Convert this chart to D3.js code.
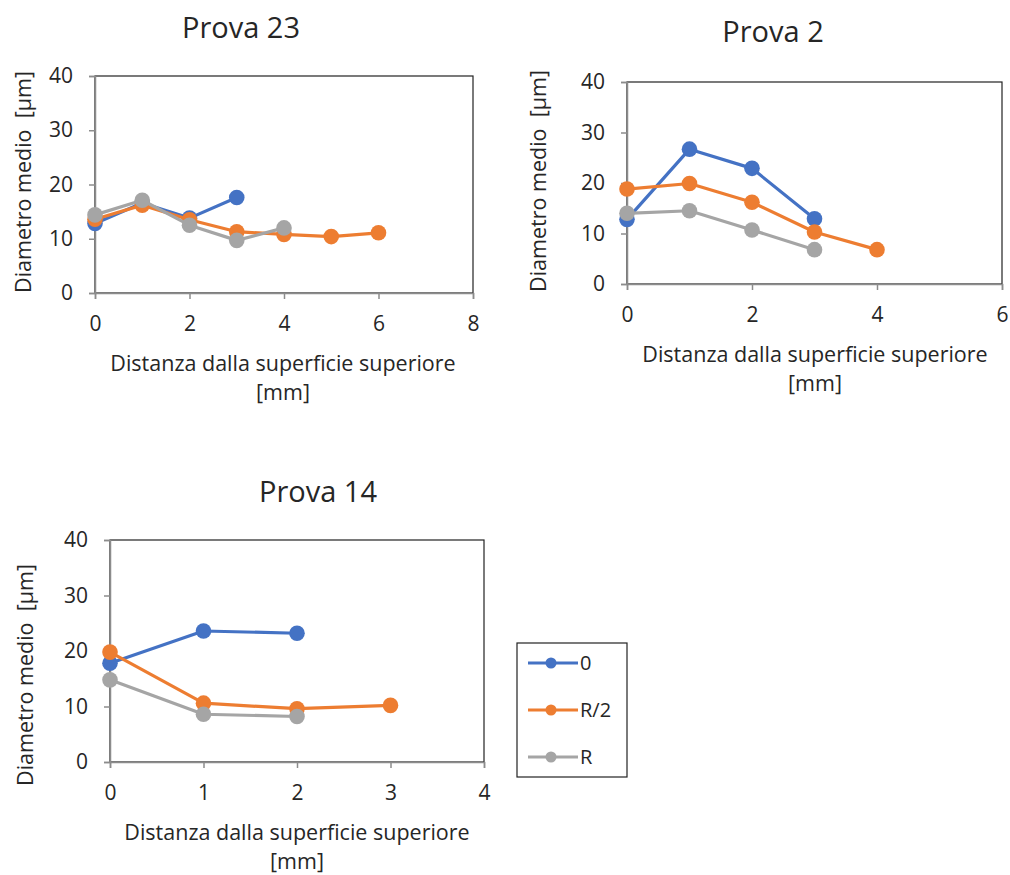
<!DOCTYPE html>
<html>
<head>
<meta charset="utf-8">
<script src="https://cdn.jsdelivr.net/npm/d3@7"></script>
<style>
  html, body { margin: 0; padding: 0; background: #fff; }
  svg text { font-family: "Open Sans", "DejaVu Sans", sans-serif; fill: #262626; white-space: pre; }
</style>
</head>
<body>
<svg id="chart" width="1010" height="875"></svg>
<script>
// Series names and colours
const seriesNames = ["0", "R/2", "R"];
const seriesColors = ["#4472C4", "#ED7D31", "#A5A5A5"];

// Y axis (mean diameter, µm)
const yTicks = [0, 10, 20, 30, 40];

// Prova 23
const p23X = [0, 1, 2, 3, 4, 5, 6];
const p23Zero = [12.8, 16.6, 13.8, 17.6];
const p23Half = [13.6, 16.2, 13.5, 11.3, 10.8, 10.4, 11.1];
const p23R = [14.4, 17.1, 12.5, 9.7, 12.0];
const p23XTicks = [0, 2, 4, 6, 8];

// Prova 2
const p2X = [0, 1, 2, 3, 4];
const p2Zero = [12.8, 26.7, 22.9, 12.9];
const p2Half = [18.8, 19.9, 16.2, 10.3, 6.8];
const p2R = [14.0, 14.5, 10.7, 6.8];
const p2XTicks = [0, 2, 4, 6];

// Prova 14
const p14X = [0, 1, 2, 3];
const p14Zero = [17.8, 23.6, 23.2];
const p14Half = [19.8, 10.6, 9.6, 10.2];
const p14R = [14.8, 8.6, 8.2];
const p14XTicks = [0, 1, 2, 3, 4];

const svg = d3.select("#chart");

function panel(cfg) {
  const g = svg.append("g");
  const x = d3.scaleLinear().domain([cfg.xTicks[0], cfg.xTicks[cfg.xTicks.length - 1]]).range([cfg.left, cfg.right]);
  const y = d3.scaleLinear().domain([0, 40]).range([cfg.bottom, cfg.top]);

  // plot area frame (top/right dark, axes grey)
  g.append("rect")
    .attr("x", cfg.left).attr("y", cfg.top)
    .attr("width", cfg.right - cfg.left).attr("height", cfg.bottom - cfg.top)
    .attr("fill", "none").attr("stroke", "#222").attr("stroke-width", 1.2);

  const yAxis = g.append("g").attr("transform", `translate(${cfg.left},0)`)
    .call(d3.axisLeft(y).tickValues(yTicks).tickSize(6).tickPadding(16).tickFormat(d3.format("d")));
  const xAxis = g.append("g").attr("transform", `translate(0,${cfg.bottom})`)
    .call(d3.axisBottom(x).tickValues(cfg.xTicks).tickSize(6).tickPadding(17).tickFormat(d3.format("d")));
  [yAxis, xAxis].forEach(a => {
    a.select(".domain").attr("stroke", "#8c8c8c").attr("stroke-width", 1.5);
    a.selectAll(".tick line").attr("stroke", "#8c8c8c").attr("stroke-width", 1.5);
    a.selectAll(".tick text").attr("font-size", 21).attr("fill", "#333")
      .style("font-family", "\"Open Sans\", sans-serif");
  });

  // series
  const series = [cfg.zero, cfg.half, cfg.r];
  series.forEach((vals, i) => {
    const pts = vals.map((v, k) => [cfg.xs[k], v]);
    g.append("path")
      .attr("d", d3.line().x(d => x(d[0])).y(d => y(d[1]))(pts))
      .attr("fill", "none").attr("stroke", seriesColors[i]).attr("stroke-width", 3.2)
      .attr("stroke-linejoin", "round");
    g.selectAll(null).data(pts).enter().append("circle")
      .attr("cx", d => x(d[0])).attr("cy", d => y(d[1])).attr("r", 7.8)
      .attr("fill", seriesColors[i]);
  });

  // titles
  g.append("text").attr("x", cfg.titleX).attr("y", cfg.titleY)
    .attr("text-anchor", "middle").attr("font-size", 29).text(cfg.title);
  g.append("text").attr("x", cfg.xtX).attr("y", cfg.xtY)
    .attr("text-anchor", "middle").attr("font-size", 21.5).text("Distanza dalla superficie superiore");
  g.append("text").attr("x", cfg.xtX).attr("y", cfg.xtY + 29)
    .attr("text-anchor", "middle").attr("font-size", 21.5).text("[mm]");
  g.append("text")
    .attr("transform", `translate(${cfg.ytX},${cfg.ytY}) rotate(-90)`)
    .attr("text-anchor", "middle").attr("font-size", 21.5).text("Diametro medio  [µm]");
}

panel({
  title: "Prova 23", titleX: 241, titleY: 38,
  left: 95, right: 473, top: 76, bottom: 293,
  xTicks: p23XTicks, xs: p23X, zero: p23Zero, half: p23Half, r: p23R,
  xtX: 283, xtY: 371, ytX: 31, ytY: 182
});
panel({
  title: "Prova 2", titleX: 773, titleY: 42,
  left: 627, right: 1002, top: 82, bottom: 284,
  xTicks: p2XTicks, xs: p2X, zero: p2Zero, half: p2Half, r: p2R,
  xtX: 815, xtY: 362, ytX: 546, ytY: 181
});
panel({
  title: "Prova 14", titleX: 318, titleY: 502,
  left: 110, right: 484, top: 540, bottom: 762,
  xTicks: p14XTicks, xs: p14X, zero: p14Zero, half: p14Half, r: p14R,
  xtX: 297, xtY: 840, ytX: 33, ytY: 675
});

// legend
const lg = svg.append("g");
lg.append("rect").attr("x", 517).attr("y", 643).attr("width", 110).attr("height", 134)
  .attr("fill", "#fff").attr("stroke", "#222").attr("stroke-width", 1.2);
seriesNames.forEach((name, i) => {
  const yy = 663 + i * 47;
  lg.append("line").attr("x1", 528).attr("x2", 578).attr("y1", yy).attr("y2", yy)
    .attr("stroke", seriesColors[i]).attr("stroke-width", 3);
  lg.append("circle").attr("cx", 551).attr("cy", yy).attr("r", 5.5).attr("fill", seriesColors[i]);
  lg.append("text").attr("x", 580).attr("y", yy).attr("dy", "0.35em")
    .attr("font-size", 20).text(name);
});
</script>
</body>
</html>
